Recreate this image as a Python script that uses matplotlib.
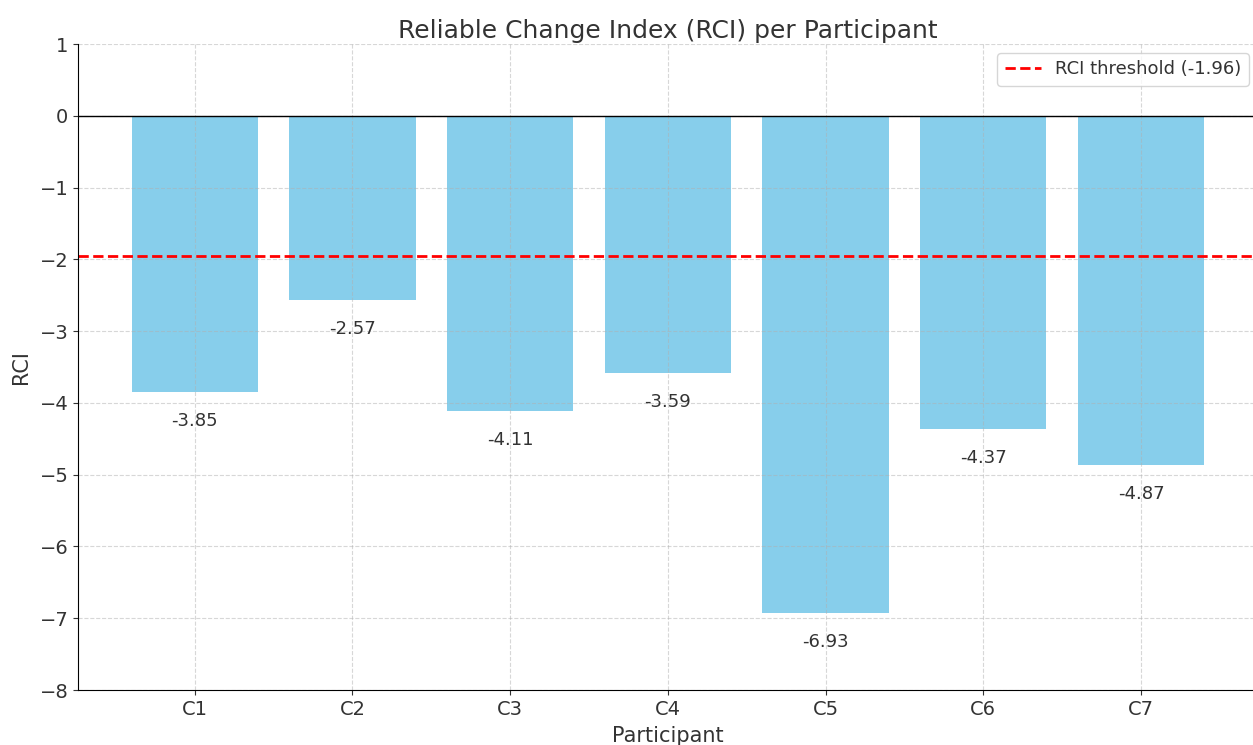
import matplotlib.pyplot as plt

participants = ["C1", "C2", "C3", "C4", "C5", "C6", "C7"]
rci_values = [-3.85, -2.57, -4.11, -3.59, -6.93, -4.37, -4.87]
threshold = -1.96

plt.rcParams["text.color"] = "#333333"
plt.rcParams["axes.labelcolor"] = "#333333"
plt.rcParams["xtick.color"] = "#333333"
plt.rcParams["ytick.color"] = "#333333"

fig = plt.figure(figsize=(12.53, 7.45), dpi=100)
ax = fig.add_axes([0.0623, 0.0738, 0.9414, 0.8671])

ax.bar(participants, rci_values, color="skyblue", width=0.8)
ax.axhline(threshold, color="red", linestyle="--", linewidth=2,
           label=f"RCI threshold ({threshold})")
ax.axhline(0, color="black", linewidth=1)

for i, v in enumerate(rci_values):
    ax.text(i, v - 0.4, f"{v:.2f}", ha="center", va="center", fontsize=13)

ax.set_ylim(-8, 1)
ax.set_xlim(-0.74, 6.74)
ax.set_title("Reliable Change Index (RCI) per Participant", fontsize=18, pad=4)
ax.set_xlabel("Participant", fontsize=15, labelpad=5)
ax.set_ylabel("RCI", fontsize=15, labelpad=6)
ax.tick_params(labelsize=14)
ax.grid(True, linestyle="--", alpha=0.5)
for side in ("top", "right"):
    ax.spines[side].set_visible(False)
ax.legend(loc="upper right", fontsize=13)

fig.savefig("out.png", dpi=100)
